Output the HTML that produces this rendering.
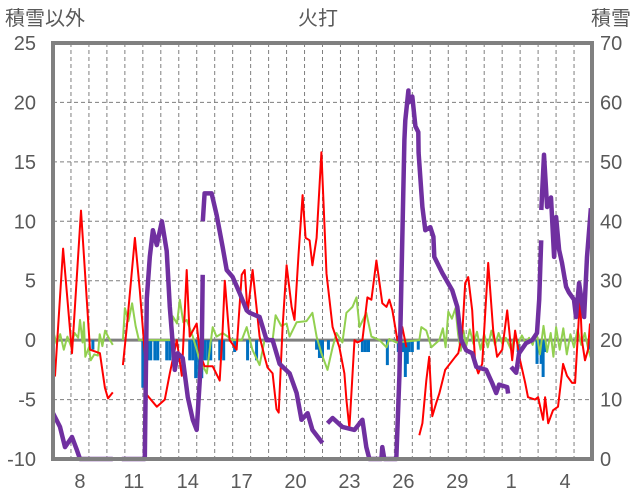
<!DOCTYPE html>
<html><head><meta charset="utf-8"><style>
html,body{margin:0;padding:0;background:#fff;}
svg{display:block;font-family:"Liberation Sans","Noto Sans CJK JP",sans-serif;}
</style></head><body>
<svg id="chart" width="636" height="501" viewBox="0 0 636 501">
<g id="grid"></g>
<g id="bars"></g>
<g id="lines"></g>
<g id="axes"></g>
<text x="5" y="25" font-size="20" fill="#595959">積雪以外</text>
<text x="318" y="25" font-size="20" fill="#595959" text-anchor="middle">火打</text>
<text x="631" y="25" font-size="20" fill="#595959" text-anchor="end">積雪</text>
</svg>
<script>
const leftTicks=[25,20,15,10,5,0,-5,-10];
const rightTicks=[70,60,50,40,30,20,10,0];
const dayLabels=["8","11","14","17","20","23","26","29","1","4"];
const redDays=[0,0.11,0.56,1.06,1.56,2.06,2.61,2.89,3.06,3.33,null,3.89,4.11,4.56,4.83,5.11,5.22,5.78,6.22,6.5,6.89,7.17,7.44,7.61,8,8.17,8.44,8.89,9.28,9.44,9.56,9.83,10.22,10.5,10.67,10.83,11.11,11.5,11.78,11.94,12.22,12.44,12.56,12.78,13,13.28,13.44,13.67,13.89,14.06,14.28,14.44,14.67,14.94,15.22,15.56,15.94,16.22,16.33,16.5,16.78,16.94,17.22,17.5,17.72,18,18.33,18.56,18.72,18.89,19.17,19.44,19.67,null,19.72,20.11,20.39,20.56,20.78,20.94,21.11,21.33,21.5,21.83,22.39,22.56,22.78,22.94,23.11,23.33,23.5,23.67,23.89,24.22,24.5,24.72,25,25.28,25.56,25.72,26,26.28,26.44,26.83,27,27.28,27.39,27.56,27.83,28.11,28.39,28.61,28.89,29.06,29.33,29.44,29.61,29.78,29.89];
const redVals=[-1.8,-3,7.7,-1.1,10.9,-0.8,-1.1,-4,-4.9,-4.4,null,-2.1,1.1,8.6,4.2,-1.1,-4.6,-5.6,-5,-2.8,0,-3,5.9,0.3,1.4,-1.1,-2.2,-2.2,-3.4,0.8,5,0,-0.8,5.5,5.9,2.3,5.9,0.3,-1.4,-2.3,-2.8,-5.8,-6.1,1.1,6.3,2.8,1.7,7.3,12.2,8.6,8.4,6.3,8.6,15.8,5.6,1.1,-0.6,-2.8,-5,-7.4,0,-0.2,0,3.6,3.4,6.7,3.1,2.8,3.4,2.5,0,1.1,-0.6,-3.9,-6.7,null,-8,-7,-3.4,-1.4,-6.4,-5.3,-4.5,-2.5,-1.4,-1.1,0.6,4.8,5.3,2.5,-2,-2.8,-2,6.5,0.8,-1.4,-0.8,2.5,-1.7,0.8,-1.7,-3.6,-4.8,-5,-4.8,-6.7,-4.8,-7,-5.9,-5.6,-2,-3,-3.6,-3.6,3.6,0,-1.7,-0.8,1.4,-0.8,-3,-4.8,-5];
const snowDays=[0,0.39,0.67,1.06,1.33,1.5,3.33,null,3.83,5.11,5.22,5.39,5.56,5.78,6.06,6.33,6.5,6.78,6.94,7.22,7.5,7.78,8,8.28,8.33,null,8.34,8.44,8.83,9.11,9.44,9.67,10,10.39,10.78,10.94,11.5,11.89,12.22,12.61,13.17,13.56,13.83,14.17,14.44,15,null,15.28,15.56,16.11,16.78,17.22,17.44,17.61,18.28,18.33,18.44,19.11,19.28,19.56,19.61,19.78,19.8,20,20.17,20.33,20.35,20.56,20.72,21,21.17,21.22,21.5,21.67,22.22,22.5,22.72,23,23.33,23.56,24.11,24.44,24.67,24.83,25.28,25.33,null,25.5,25.78,25.94,26.33,26.67,26.94,27.06,27.17,null,27.18,27.33,27.5,27.72,27.89,28,28.17,28.33,28.56,28.72,29,29.11,29.28,29.56,29.72,29.94];
const snowVals=[7.7,5.4,2,3.7,1.5,0,0,null,0,0,27,34,38.5,36,40,35,25.6,15,17.8,17,10.4,6.6,4.9,18.8,31,null,40,44.7,44.7,41,35.7,31.8,30.6,27.9,25,24.6,23.9,20,20,16,14.4,11.1,6.6,7.7,4.9,2.7,null,6,6.9,5.4,4.9,6.6,2,0,0,2,0,0,14,53.7,57,62,60,61,56,55,51.5,42.4,38.5,39,37.4,34,32.3,31.3,28.4,25.6,20,18.3,17.8,15.5,15,12.8,11.1,12.5,12.1,11,null,15.5,14.5,17.8,19.5,20,21.2,26.8,36.8,null,41.9,51.2,42.4,44,34,40.7,35.2,33,29,28,26.8,23.9,29.6,23.9,34,42.2];
const windDays=[0,0.2,0.4,0.6,0.8,1,1.2,1.4,1.5,1.65,1.72,1.8,2,2.1,2.3,2.5,2.6,2.75,2.9,3.1,3.33,null,3.89,4,4.2,4.4,4.6,4.78,6.6,6.67,6.9,7.06,7.25,7.44,7.78,8.17,8.56,8.72,8.89,9.1,9.44,10,10.5,10.78,11.1,11.5,11.78,12.22,12.39,12.7,13,13.17,13.56,14.11,14.44,14.67,14.94,15.28,15.56,15.78,16.11,16.33,16.67,16.89,17.06,17.44,17.72,18.17,18.56,18.72,19.11,20.39,20.5,20.78,21.06,21.5,21.7,21.85,22,22.2,22.4,22.55,22.7,22.85,23,23.2,23.4,23.6,23.8,24,24.2,24.4,24.6,24.8,25,25.2,25.5,25.7,25.9,26.1,26.3,26.5,26.7,26.9,27.1,27.3,27.5,27.7,27.85,28,28.2,28.4,28.6,28.8,29,29.2,29.4,29.6,29.8,29.94];
const windVals=[0.8,-0.3,0.5,-0.8,0.3,-0.5,0.6,0.2,1.7,-0.2,1.5,-1.4,-0.6,-1.7,-1.2,-1.3,0.5,-0.5,0.8,0.2,-0.4,null,0,2.7,1.6,3.1,1.2,0,0,2,1.4,3.4,1.5,1.7,0.3,-1.7,-2.8,-0.8,1.1,0.3,0.6,0,0,1.1,-0.8,-2.1,0,0,2.1,1.2,1.4,0.3,1.5,1.6,2.3,0.3,-1.1,-2.5,-0.6,0.6,-0.2,2.3,2.8,3.6,1.1,2.3,0.3,0,-0.6,0.1,-0.2,0,1.1,0.8,-0.6,0,1.0,-0.6,2.4,1.8,2.7,0.5,-0.9,0.8,-0.5,0.9,-0.3,0.7,-0.8,0.5,-0.6,0.8,-0.4,0.6,-0.3,0.2,-0.8,0.3,-0.3,0.4,-0.2,0.2,-0.4,0.8,-1.2,1.2,-1.0,0.6,-1.4,1.1,-0.8,1.0,-1.2,0.5,-0.6,0.9,-0.4,0.6,-0.8,-1.5];
const barDays=[2.22,5,5.11,5.28,5.44,5.67,5.83,6.33,6.5,7.61,7.78,7.94,8.11,8.28,8.44,8.61,8.78,9.28,9.5,10.11,10.83,11.33,14.67,14.83,15,15.33,17.22,17.39,17.56,18.61,19.22,19.4,19.5,19.61,19.72,19.83,20,20.33,25.89,26.94,27.06,27.17,27.28,27.39,29.89];
const barVals=[-0.8,-4,-1.7,-1.7,-1.7,-1.7,-1.7,-1.7,-1.7,-1.7,-1.7,-3.2,-3.2,-3.2,-1.7,-1.7,-1.7,-1.7,-1.7,-1,-1.7,-1.7,-0.8,-1.5,-1.5,-0.8,-1,-1,-1,-2.1,-1,-1,-1,-3.1,-2,-1,-1,-0.8,-1,-2,-1,-2,-3.1,-1,-0.8];

const L=53,R=592,T=43,B=459,NDAYS=30;
const NS="http://www.w3.org/2000/svg";
const xS=d=>L+(R-L)*d/NDAYS;
const yL=v=>B-(v+10)/35*(B-T);
const yR=v=>B-v/70*(B-T);
function mk(tag,attrs,parent){const e=document.createElementNS(NS,tag);for(const k in attrs)e.setAttribute(k,attrs[k]);parent.appendChild(e);return e;}
const grid=document.getElementById('grid'),axes=document.getElementById('axes'),bars=document.getElementById('bars'),lines=document.getElementById('lines');
// horizontal grid + ticks
leftTicks.forEach((v,i)=>{
  const y=yL(v);
  if(v!==-10&&v!==25&&v!==0){const g=mk('line',{x1:L,x2:R,y1:y,y2:y,stroke:'#7f7f7f','stroke-width':1,'stroke-dasharray':'4,3'},grid);
  
  }
  const t=mk('text',{x:36,y:y+7,'font-size':20,fill:'#595959','text-anchor':'end'},axes);t.textContent=v;
  
  
});
rightTicks.forEach(v=>{
  const t=mk('text',{x:600,y:yR(v)+7,'font-size':20,fill:'#595959'},axes);t.textContent=v;
  
  
});
for(let d=1;d<NDAYS;d++){
  const g=mk('line',{x1:xS(d),x2:xS(d),y1:T,y2:B,stroke:'#7f7f7f','stroke-width':1,'stroke-dasharray':'4,3'},grid);
  
  
}
dayLabels.forEach((s,i)=>{
  const t=mk('text',{x:xS(1.5+3*i),y:488,'font-size':20,fill:'#595959','text-anchor':'middle'},axes);t.textContent=s;
  
  
});
const zl=mk('line',{x1:L,x2:R,y1:yL(0),y2:yL(0),stroke:'#808080','stroke-width':3},grid);


barDays.forEach((d,i)=>{
  const y0=yL(0),y1=yL(barVals[i]);
  const r=mk('rect',{x:xS(d)-1.5,y:y0,width:3,height:y1-y0,fill:'#0070C0'},bars);
  
  
});
function path(days,vals,ys){let s='',pen=false;for(let i=0;i<days.length;i++){if(days[i]===null||vals[i]===null){pen=false;continue;}s+=(pen?'L':'M')+xS(days[i]).toFixed(1)+','+ys(vals[i]).toFixed(1);pen=true;}return s;}
const gp=mk('path',{d:path(windDays,windVals,yL),fill:'none',stroke:'#92D050','stroke-width':2,'stroke-linejoin':'round'},lines);


const rp=mk('path',{d:path(redDays,redVals,yL),fill:'none',stroke:'#FF0000','stroke-width':2,'stroke-linejoin':'round'},lines);


const pp=mk('path',{d:path(snowDays,snowVals,yR),fill:'none',stroke:'#7030A0','stroke-width':4.5,'stroke-linejoin':'round'},lines);


const fr=mk('rect',{x:L,y:T,width:R-L,height:B-T,fill:'none',stroke:'#808080','stroke-width':4},axes);


</script>
</body></html>
